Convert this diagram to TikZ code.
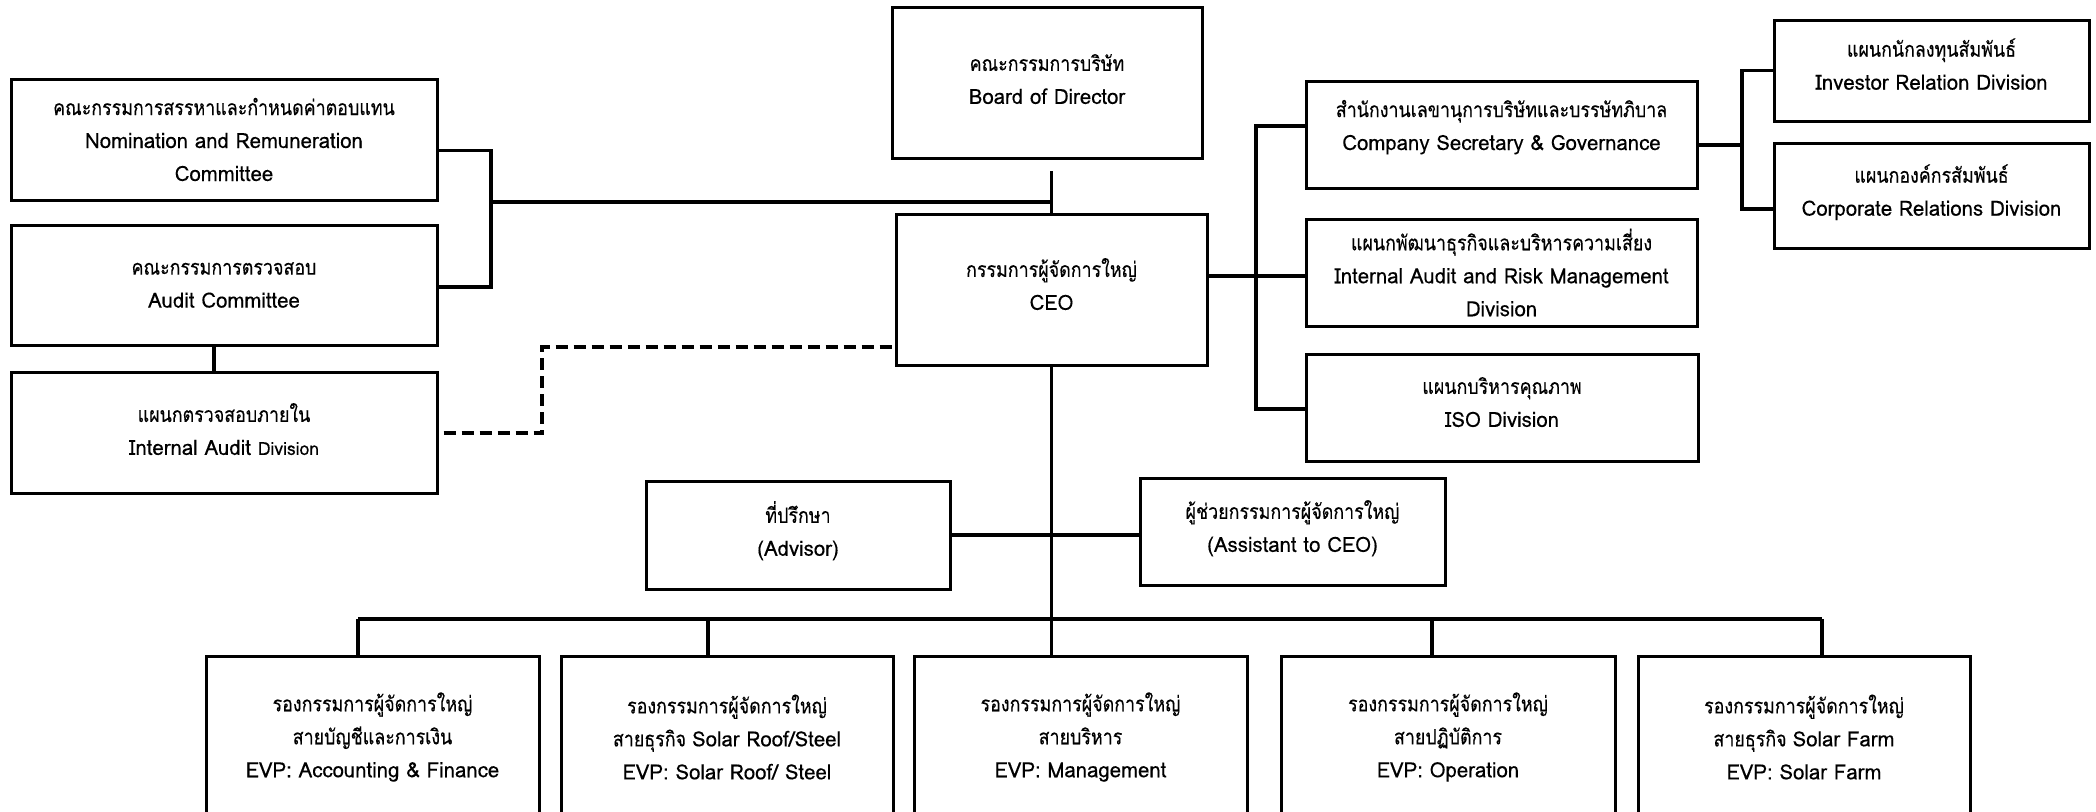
\documentclass[tikz,border=0pt]{standalone}
\usepackage{fontspec}
\setmainfont[Script=Thai,FakeStretch=0.85,FakeBold=0.3]{Loma}
\newfontfamily\latf[FakeStretch=0.97,FakeBold=0.3]{Loma}
\usetikzlibrary{calc}
\tikzset{
  box/.style={draw, line width=1.5pt, align=center, inner sep=0pt,
    font=\fontsize{10.5}{16.5}\selectfont},
  conn/.style={line width=1.9pt},
  dconn/.style={line width=1.9pt, dash pattern=on 6pt off 3pt},
}
\begin{document}
\begin{tikzpicture}[x=0.5pt,y=-0.5pt]
\useasboundingbox (0,0) rectangle (2096,811);
% left column
\node[box, minimum width=213pt, minimum height=60.5pt] (nrc) at (224,139.5)
  {คณะกรรมการสรรหาและกำหนดค่าตอบแทน\\\latf Nomination and Remuneration\\\latf Committee};
\node[box, minimum width=213pt, minimum height=60pt] (audit) at (224,285)
  {คณะกรรมการตรวจสอบ\\\latf Audit Committee};
\node[box, minimum width=213pt, minimum height=60.5pt] (iad) at (224,432.5)
  {แผนกตรวจสอบภายใน\\\latf Internal Audit {\fontsize{9}{16.5}\selectfont Division}\\[-13pt]};
% centre
\node[box, minimum width=155pt, minimum height=75.5pt] (board) at (1047,82.5)
  {คณะกรรมการบริษัท\\\latf Board of Director\\[-13pt]};
\node[box, minimum width=155.5pt, minimum height=75.5pt] (ceo) at (1051.5,289.5)
  {กรรมการผู้จัดการใหญ่\\\latf CEO\\[-11pt]};
% right column
\node[box, minimum width=195.5pt, minimum height=53.5pt] (cs) at (1501.5,134.5)
  {สำนักงานเลขานุการบริษัทและบรรษัทภิบาล\\\latf Company Secretary \& Governance\\[-7pt]};
\node[box, minimum width=195.5pt, minimum height=53.5pt] (iar) at (1501.5,272.5)
  {แผนกพัฒนาธุรกิจและบริหารความเสี่ยง\\\latf Internal Audit and Risk Management\\\latf Division};
\node[box, minimum width=196pt, minimum height=53.5pt] (iso) at (1502,407.5)
  {แผนกบริหารคุณภาพ\\\latf ISO Division\\[-11pt]};
\node[box, minimum width=157.5pt, minimum height=50.5pt] (ir) at (1931.5,70.5)
  {แผนกนักลงทุนสัมพันธ์\\\latf Investor Relation Division\\[-10pt]};
\node[box, minimum width=157.5pt, minimum height=52.5pt] (cr) at (1931.5,195.5)
  {แผนกองค์กรสัมพันธ์\\\latf Corporate Relations Division\\[-11pt]};
% advisor row
\node[box, minimum width=152pt, minimum height=54pt] (adv) at (798,535)
  {ที่ปรึกษา\\\latf (Advisor)\\[-10pt]};
\node[box, minimum width=152.5pt, minimum height=53.5pt] (asst) at (1292.5,531.5)
  {ผู้ช่วยกรรมการผู้จัดการใหญ่\\\latf (Assistant to CEO)\\[-11pt]};
% EVP row
\node[box, minimum width=166.5pt, minimum height=81pt] (evp1) at (372.5,737)
  {รองกรรมการผู้จัดการใหญ่\\สายบัญชีและการเงิน\\\latf EVP: Accounting \& Finance};
\node[box, minimum width=166pt, minimum height=81pt] (evp2) at (727,737)
  {รองกรรมการผู้จัดการใหญ่\\สายธุรกิจ {\latf Solar Roof/Steel}\\\latf EVP: Solar Roof/ Steel};
\node[box, minimum width=166.5pt, minimum height=81pt] (evp3) at (1080.5,737)
  {รองกรรมการผู้จัดการใหญ่\\สายบริหาร\\\latf EVP: Management};
\node[box, minimum width=167pt, minimum height=81pt] (evp4) at (1448,737)
  {รองกรรมการผู้จัดการใหญ่\\สายปฏิบัติการ\\\latf EVP: Operation};
\node[box, minimum width=166pt, minimum height=81pt] (evp5) at (1804,737)
  {รองกรรมการผู้จัดการใหญ่\\สายธุรกิจ {\latf Solar Farm}\\\latf EVP: Solar Farm};
% junction coordinates
\coordinate (lb) at (491,202);
\coordinate (bstem) at (1051.5,171);
\coordinate (dj) at (542,347);
\coordinate (rb) at (1256,276);
\coordinate (cb) at (1742,145);
\coordinate (busL) at (358,619);
\coordinate (d2) at (708,619);
\coordinate (d4) at (1432,619);
\coordinate (busR) at (1822,619);
% connectors
\draw[conn] ($(nrc.east)+(0,11)$) -| (lb) |- ($(audit.east)+(0,2)$);
\draw[conn] (lb) -- (lb -| ceo.north);
\draw[conn] (bstem) -- (ceo.north);
\draw[conn] ($(audit.south)+(-10,0)$) -- ($(iad.north)+(-10,0)$);
\draw[dconn] ($(iad.east)+(5,0.5)$) -| (dj) -- (dj -| ceo.west);
\draw[conn] (ceo.east |- rb) -- (iar.west |- rb);
\draw[conn] ($(cs.west)+(0,-8.5)$) -| (rb) |- ($(iso.west)+(0,1.5)$);
\draw[conn] ($(cs.east)+(0,10.5)$) -- (cb);
\draw[conn] (ir.west) -| (cb) |- ($(cr.west)+(0,13.5)$);
\draw[conn] (adv.east) -- (adv.east -| asst.west);
\draw[conn] (ceo.south) -- (ceo.south |- busL);
\draw[conn] (busL) -- (busR);
\draw[conn] (busL) -- (busL |- evp1.north);
\draw[conn] (d2) -- (d2 |- evp2.north);
\draw[conn] (ceo.south |- busL) -- (evp3.north -| ceo.south);
\draw[conn] (d4) -- (d4 |- evp4.north);
\draw[conn] (busR) -- (busR |- evp5.north);
\end{tikzpicture}
\end{document}
